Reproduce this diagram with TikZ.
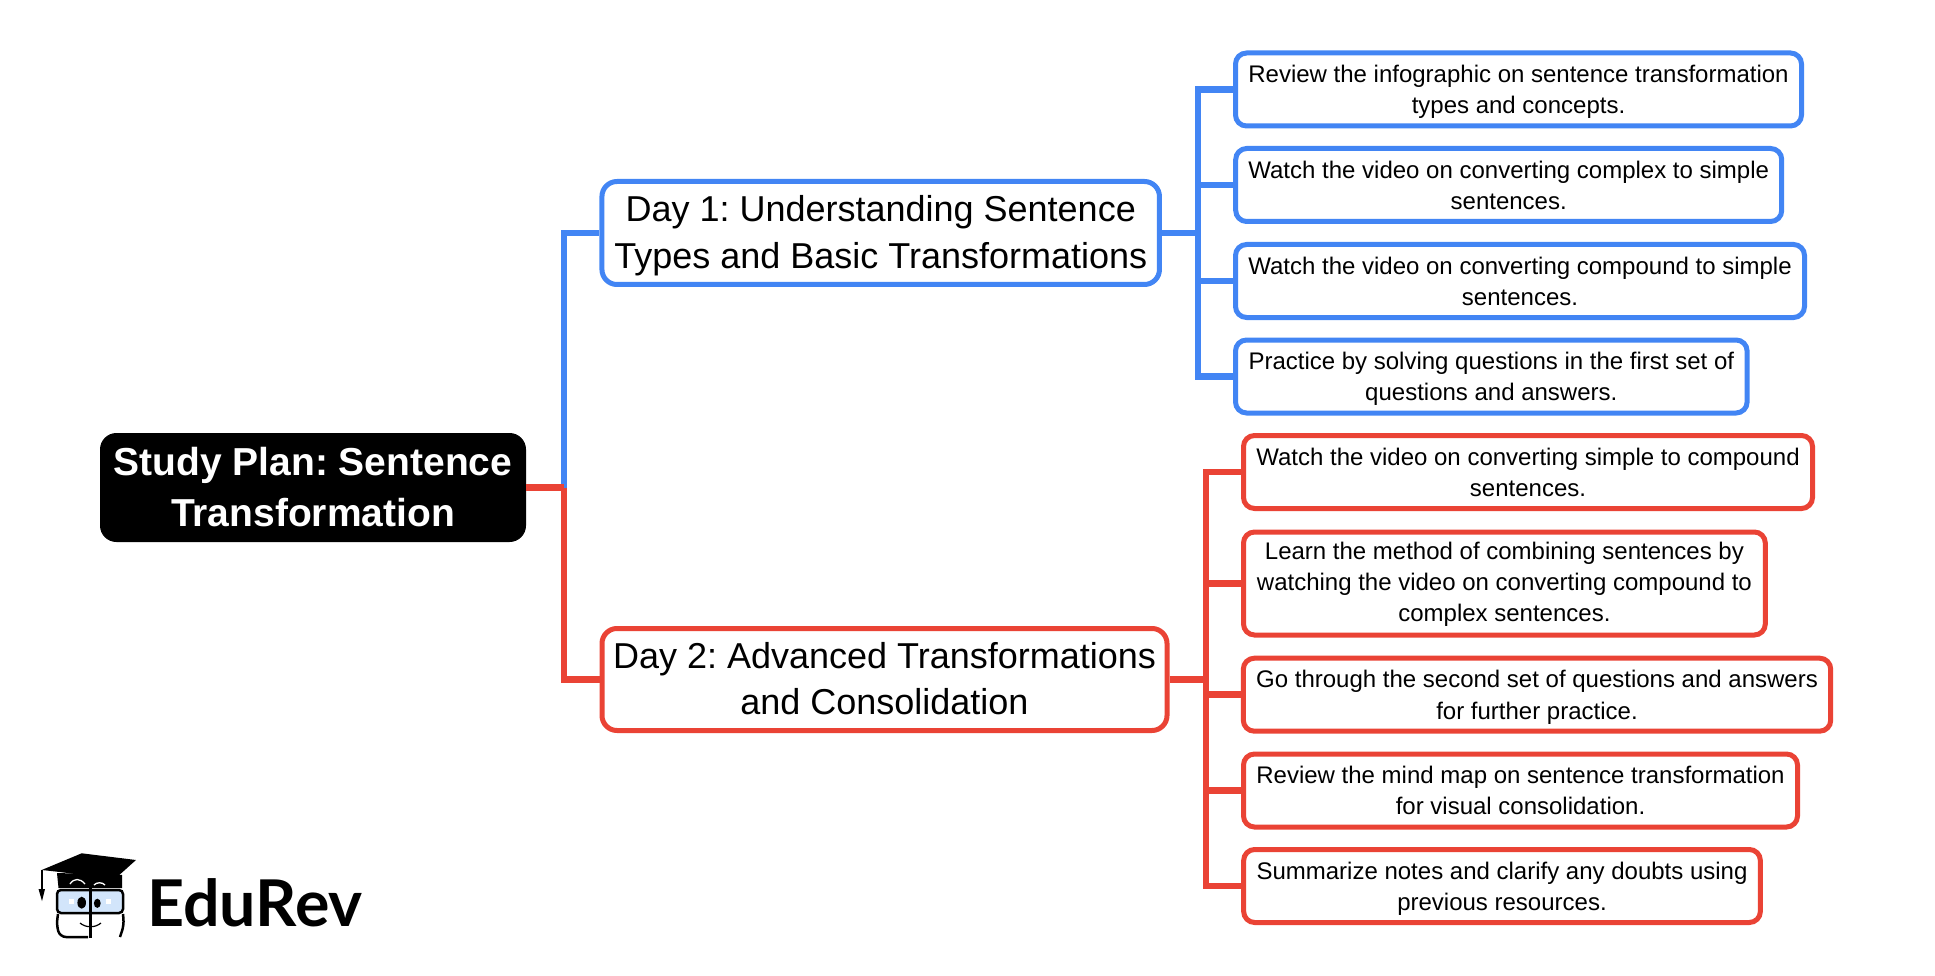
\documentclass[tikz,border=0pt]{standalone}
\usepackage{fontspec}
\setmainfont{Liberation Sans}
\newfontfamily\logofont{Lato}
\usetikzlibrary{positioning}
\definecolor{bluelink}{HTML}{4285F4}
\definecolor{redlink}{HTML}{EA4335}
\definecolor{lensblue}{HTML}{D2E5FB}

\begin{document}
\frenchspacing
\begin{tikzpicture}[x=1pt, y=-1pt,
	rootbox/.style={draw=black,fill=black,text=white,rounded corners=16pt,line width=1pt,align=center,
		font=\fontsize{39}{51}\selectfont\bfseries},
	daybox/.style={draw,fill=white,rounded corners=15pt,line width=5pt,align=center,text depth=2.5pt,
		font=\fontsize{36}{46.5}\selectfont},
	itembox/.style={draw,fill=white,rounded corners=11pt,line width=5pt,align=center,text depth=0pt,
		font=\fontsize{24}{31.3}\selectfont},
	bluewire/.style={draw=bluelink,line width=6.5pt},
	redwire/.style={draw=redlink,line width=6.5pt}]
\useasboundingbox (0, 0) rectangle (1935, 976);
% junctions
\coordinate (jroot) at (564, 487.5);
\coordinate (jblue) at (1198, 233);
\coordinate (jred) at (1206, 679.5);
% main boxes
\node[rootbox, minimum width=425pt, minimum height=108pt] (root) at (313, 487.5) {Study Plan: Sentence\\Transformation};
\node[daybox, draw=bluelink, minimum width=557.5pt, minimum height=103pt] (day1) at (880.7, 233) {Day 1: Understanding Sentence\\Types and Basic Transformations};
\node[daybox, draw=redlink, minimum width=565pt, minimum height=102pt] (day2) at (884.5, 679.5) {Day 2: Advanced Transformations\\and Consolidation};
% day 1
\node[itembox, draw=bluelink, minimum width=566pt, minimum height=73pt] (b1) at (1518.5, 89.5) {Review the infographic on sentence transformation\\types and concepts.};
\node[itembox, draw=bluelink, minimum width=546pt, minimum height=73pt] (b2) at (1508.7, 185) {Watch the video on converting complex to simple\\sentences.};
\node[itembox, draw=bluelink, minimum width=569pt, minimum height=73pt] (b3) at (1520, 281) {Watch the video on converting compound to simple\\sentences.};
\node[itembox, draw=bluelink, minimum width=511.6pt, minimum height=73pt] (b4) at (1491.3, 376.5) {Practice by solving questions in the first set of\\questions and answers.};
% day 2
\node[itembox, draw=redlink, minimum width=569pt, minimum height=73pt] (r1) at (1528, 472) {Watch the video on converting simple to compound\\sentences.};
\node[itembox, draw=redlink, minimum width=521.8pt, minimum height=103pt, text depth=3.5pt] (r2) at (1504.4, 583.5) {Learn the method of combining sentences by\\watching the video on converting compound to\\complex sentences.};
\node[itembox, draw=redlink, minimum width=587.4pt, minimum height=73pt] (r3) at (1537, 694.7) {Go through the second set of questions and answers\\for further practice.};
\node[itembox, draw=redlink, minimum width=554pt, minimum height=73pt] (r4) at (1520.5, 790.5) {Review the mind map on sentence transformation\\for visual consolidation.};
\node[itembox, draw=redlink, minimum width=516.7pt, minimum height=73pt] (r5) at (1502, 886) {Summarize notes and clarify any doubts using\\previous resources.};
% connectors
\draw[bluewire] (jroot) |- (day1.west);
\draw[redwire] (root.east) -- (jroot);
\draw[redwire] (jroot) |- (day2.west);
\draw[bluewire] (day1.east) -- (jblue);
\draw[bluewire] (jblue) |- (b1.west);
\draw[bluewire] (jblue) |- (b2.west);
\draw[bluewire] (jblue) |- (b3.west);
\draw[bluewire] (jblue) |- (b4.west);
\draw[redwire] (day2.east) -- (jred);
\draw[redwire] (jred) |- (r1.west);
\draw[redwire] (jred) |- (r2.west);
\draw[redwire] (jred) |- (r3.west);
\draw[redwire] (jred) |- (r4.west);
\draw[redwire] (jred) |- (r5.west);
% logo
\node[anchor=west, inner sep=0pt, font=\fontsize{64.5}{64.5}\selectfont\logofont\bfseries] (brand) at (147, 903) {EduRev};
\fill[black] (57, 873) -- (58.5, 888) -- (122, 888) -- (122, 875) -- cycle;
\fill[black] (41.7, 870) -- (81.7, 853.3) -- (136, 860) -- (110.7, 882.7) .. controls (95, 876) and (70, 873) .. (41.7, 870) -- cycle;
\draw[black, line width=1.6pt] (41.7, 870) -- (41.7, 891);
\fill[black] (38.5, 889) -- (45, 889) -- (42, 901) -- cycle;
\draw[white, line width=1.3pt] (70, 884) .. controls (74, 878) and (80, 878) .. (85, 884);
\draw[white, line width=1.3pt] (94, 885) .. controls (97, 882) and (102, 882) .. (105, 885);
\draw[black, fill=lensblue, line width=2.5pt, rounded corners=4pt] (57, 890) rectangle (123, 913);
\draw[black, line width=2.5pt, rounded corners=6pt] (58, 914) -- (56.5, 925) -- (60, 937) -- (88, 937);
\draw[black, line width=2.5pt, rounded corners=6pt] (123, 914) -- (124, 925) -- (120, 937);
\draw[black, line width=3pt] (90, 888) -- (90, 938);
\fill[black] (81.7, 902.7) ellipse (4.3 and 6);
\fill[black] (97.3, 903.3) ellipse (3.4 and 4.6);
\fill[white] (69, 899) rectangle (74, 904);
\fill[white] (106, 899) rectangle (111, 904);
\draw[black, line width=1.2pt] (80, 923) .. controls (86, 928) and (95, 928) .. (101, 923);
\end{tikzpicture}
\end{document}
